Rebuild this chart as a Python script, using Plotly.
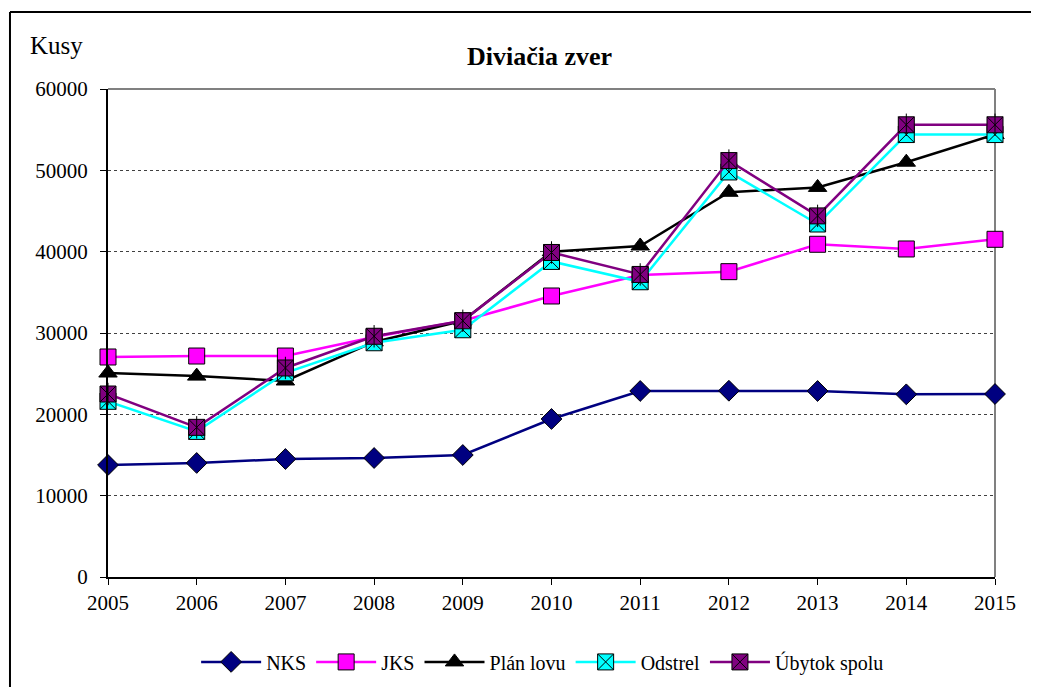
import plotly.graph_objects as go

years = [2005, 2006, 2007, 2008, 2009, 2010, 2011, 2012, 2013, 2014, 2015]
nks = [13770, 14020, 14510, 14630, 15000, 19430, 22870, 22900, 22870, 22460, 22500]
jks = [27050, 27170, 27170, 29510, 31500, 34550, 37130, 37540, 40910, 40330, 41520]
plan_lovu = [25080, 24700, 24100, 28900, 31500, 40000, 40700, 47300, 47900, 51000, 54400]
odstrel = [21600, 17900, 25100, 28800, 30400, 38800, 36300, 49800, 43400, 54400, 54400]
ubytok = [22500, 18400, 25700, 29600, 31500, 39900, 37200, 51200, 44400, 55600, 55600]

FONT = "Liberation Serif, Times New Roman, serif"

fig = go.Figure()

fig.add_trace(go.Scatter(
    x=years, y=nks, name="NKS", mode="lines+markers", cliponaxis=False,
    line=dict(color="#000080", width=2.5),
    marker=dict(symbol="diamond", size=16, color="#000080", line=dict(color="black", width=1))))
fig.add_trace(go.Scatter(
    x=years, y=jks, name="JKS", mode="lines+markers", cliponaxis=False,
    line=dict(color="#FF00FF", width=2.5),
    marker=dict(symbol="square", size=16, color="#FF00FF", line=dict(color="black", width=1))))
fig.add_trace(go.Scatter(
    x=years, y=plan_lovu, name="Plán lovu", mode="lines+markers", cliponaxis=False,
    line=dict(color="black", width=2.5),
    marker=dict(symbol="triangle-up", size=16, color="black", line=dict(color="black", width=1))))
fig.add_trace(go.Scatter(
    x=years, y=odstrel, name="Odstrel", mode="lines+markers", cliponaxis=False,
    line=dict(color="#00FFFF", width=2.5),
    marker=dict(symbol="square-x", size=16, color="#00FFFF", line=dict(color="black", width=1))))
fig.add_trace(go.Scatter(
    x=years, y=ubytok, name="Úbytok spolu", mode="lines+markers", cliponaxis=False,
    line=dict(color="#800080", width=2.5),
    marker=dict(symbol="square-x", size=16, color="#800080", line=dict(color="black", width=1))))
fig.add_trace(go.Scatter(
    x=years, y=ubytok, name="Úbytok spolu", mode="markers", cliponaxis=False, showlegend=False,
    hoverinfo="skip",
    marker=dict(symbol="line-ns-open", size=16, color="black", line=dict(color="black", width=1))))

fig.update_layout(
    width=1039, height=687,
    margin=dict(l=100, r=52, t=81, b=118),
    paper_bgcolor="white", plot_bgcolor="white",
    font=dict(family=FONT, size=21, color="black"),
    showlegend=True,
    legend=dict(orientation="h", x=0.49, xanchor="center", y=-0.174, yanchor="middle",
                font=dict(family=FONT, size=20, color="black"), itemwidth=60,
                bgcolor="rgba(0,0,0,0)"),
    xaxis=dict(range=[2005, 2015], tickmode="array", tickvals=years, ticktext=[str(y) for y in years],
               showgrid=False, zeroline=False, showline=True, linecolor="black", linewidth=2,
               ticks="outside", ticklen=6, tickcolor="black", tickfont=dict(family=FONT, size=21)),
    yaxis=dict(range=[0, 60000], dtick=10000, tickformat="d",
               showgrid=True, gridcolor="#404040", gridwidth=1, griddash="dot",
               zeroline=False, showline=True, linecolor="black", linewidth=2,
               ticks="outside", ticklen=6, tickcolor="black", ticklabelstandoff=8,
               tickfont=dict(family=FONT, size=21)),
    annotations=[
        dict(text="<b>Diviačia zver</b>", xref="paper", yref="paper", x=0.487, y=1.0656,
             xanchor="center", yanchor="middle", showarrow=False,
             font=dict(family=FONT, size=26, color="black")),
        dict(text="Kusy", xref="paper", yref="paper", x=-0.09, y=1.09,
             xanchor="left", yanchor="middle", showarrow=False,
             font=dict(family=FONT, size=25, color="black"))],
    shapes=[
        dict(type="line", xref="paper", yref="paper", x0=0, x1=1, y0=1, y1=1,
             line=dict(color="#808080", width=2), layer="below"),
        dict(type="line", xref="paper", yref="paper", x0=1, x1=1, y0=0, y1=1,
             line=dict(color="#808080", width=2), layer="below"),
        dict(type="line", xref="paper", yref="paper", x0=-0.1105, x1=1.06, y0=1.1578, y1=1.1578,
             line=dict(color="black", width=2)),
        dict(type="line", xref="paper", yref="paper", x0=-0.1105, x1=-0.1105, y0=-0.23, y1=1.1578,
             line=dict(color="black", width=2)),
    ],
)

fig.write_html("out.html")
